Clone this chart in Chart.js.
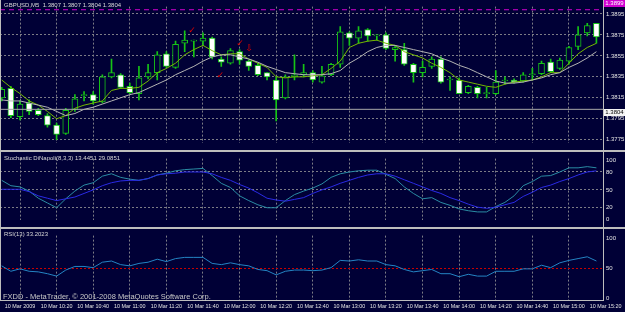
<!DOCTYPE html>
<html>
<head>
<meta charset="utf-8">
<script src="https://cdn.jsdelivr.net/npm/chart.js@4.4.1/dist/chart.umd.min.js"></script>
<style>
body{margin:0;background:#000036;width:625px;height:312px;overflow:hidden;position:relative;font-family:"Liberation Sans",Arial,sans-serif}
canvas{position:absolute;left:0}
.txt{position:absolute;color:#d8d8d8;font-size:6px;line-height:7px;white-space:nowrap}
.ln{position:absolute;background:#bdbdbd}
.box{position:absolute;left:604px;width:21px;height:7px;font-size:6px;line-height:7px;text-align:center}
</style>
</head>
<body>
<canvas id="priceChart" width="625" height="150" style="top:0"></canvas>
<canvas id="stochChart" width="625" height="75" style="top:152px"></canvas>
<canvas id="rsiChart" width="625" height="83" style="top:229px"></canvas>

<div class="ln" style="left:0;top:150px;width:625px;height:2px"></div>
<div class="ln" style="left:0;top:227px;width:625px;height:2px"></div>
<div class="ln" style="left:0;top:300px;width:604px;height:1px"></div>
<div class="ln" style="left:603px;top:0;width:1px;height:301px"></div>
<div class="ln" style="left:0;top:0;width:1px;height:301px"></div>

<div class="txt" style="left:4px;top:2px">GBPUSD,M5&nbsp; 1.3807 1.3807 1.3804 1.3804</div>
<div class="txt" style="left:4px;top:155px">Stochastic DiNapoli(8,3,3) 13.4451 29.0851</div>
<div class="txt" style="left:4px;top:231px">RSI(13) 33.2023</div>
<div class="txt" style="left:3px;top:293px;font-size:7.5px;line-height:8px;color:#c8c8c8">FXDD - MetaTrader, © 2001-2008 MetaQuotes Software Corp.</div>
<div class="box" style="top:0;background:#d000d0;color:#fff">1.3899</div>
<div class="box" style="top:109px;background:#f4f4f4;color:#000">1.3804</div>

<script>
// GBPUSD M5, bars from 09:50 to 15:15
var openP  = [1.3815,1.3824,1.3797,1.3810,1.3803,1.3798,1.3789,1.3781,1.3804,1.3817,1.3818,1.3811,1.3835,1.3837,1.3826,1.3819,1.3835,1.3839,1.3857,1.3844,1.3867,1.3869,1.3869,1.3872,1.3852,1.3848,1.3859,1.3850,1.3846,1.3839,1.3832,1.3815,1.3835,1.3837,1.3839,1.3830,1.3837,1.3847,1.3877,1.3872,1.3880,1.3874,1.3875,1.3861,1.3861,1.3847,1.3839,1.3845,1.3852,1.3832,1.3832,1.3820,1.3825,1.3819,1.3819,1.3831,1.3832,1.3831,1.3837,1.3838,1.3849,1.3843,1.3850,1.3864,1.3877,1.3886];
var highP  = [1.3825,1.3826,1.3812,1.3813,1.3805,1.3800,1.3791,1.3805,1.3818,1.3821,1.3821,1.3837,1.3852,1.3838,1.3829,1.3845,1.3847,1.3859,1.3859,1.3869,1.3879,1.3870,1.3877,1.3873,1.3854,1.3862,1.3861,1.3851,1.3848,1.3839,1.3835,1.3837,1.3856,1.3847,1.3841,1.3845,1.3848,1.3883,1.3878,1.3883,1.3881,1.3875,1.3877,1.3865,1.3867,1.3848,1.3850,1.3854,1.3854,1.3835,1.3834,1.3827,1.3826,1.3825,1.3841,1.3835,1.3833,1.3839,1.3843,1.3850,1.3852,1.3853,1.3864,1.3883,1.3886,1.3886];
var lowP   = [1.3812,1.3796,1.3794,1.3799,1.3798,1.3787,1.3775,1.3780,1.3802,1.3812,1.3809,1.3810,1.3834,1.3824,1.3819,1.3813,1.3833,1.3832,1.3844,1.3843,1.3859,1.3854,1.3865,1.3852,1.3845,1.3847,1.3847,1.3841,1.3836,1.3832,1.3793,1.3814,1.3832,1.3835,1.3830,1.3829,1.3836,1.3844,1.3865,1.3867,1.3869,1.3870,1.3861,1.3850,1.3846,1.3830,1.3835,1.3843,1.3829,1.3822,1.3819,1.3819,1.3815,1.3815,1.3818,1.3828,1.3829,1.3830,1.3832,1.3837,1.3839,1.3842,1.3847,1.3861,1.3874,1.3867];
var closeP = [1.3823,1.3798,1.3809,1.3802,1.3799,1.3789,1.3780,1.3803,1.3814,1.3817,1.3812,1.3835,1.3839,1.3825,1.3820,1.3834,1.3839,1.3856,1.3845,1.3866,1.3870,1.3869,1.3872,1.3854,1.3849,1.3860,1.3851,1.3845,1.3837,1.3835,1.3813,1.3835,1.3837,1.3839,1.3832,1.3836,1.3847,1.3878,1.3872,1.3879,1.3874,1.3874,1.3862,1.3863,1.3847,1.3839,1.3844,1.3852,1.3830,1.3832,1.3819,1.3826,1.3819,1.3819,1.3830,1.3831,1.3830,1.3837,1.3837,1.3848,1.3840,1.3851,1.3863,1.3875,1.3884,1.3873];
var maFast = [1.3832,1.3825,1.3819,1.3812,1.3808,1.3802,1.3795,1.3798,1.3805,1.3808,1.3810,1.3812,1.3822,1.3824,1.3824,1.3825,1.3831,1.3839,1.3843,1.3848,1.3856,1.3861,1.3865,1.3860,1.3856,1.3857,1.3857,1.3852,1.3848,1.3844,1.3835,1.3834,1.3835,1.3835,1.3836,1.3837,1.3843,1.3850,1.3863,1.3867,1.3869,1.3870,1.3867,1.3865,1.3859,1.3856,1.3853,1.3848,1.3844,1.3839,1.3832,1.3830,1.3828,1.3826,1.3825,1.3828,1.3830,1.3831,1.3832,1.3835,1.3839,1.3839,1.3848,1.3857,1.3863,1.3867];
var maSlow = [1.3813,1.3812,1.3812,1.3810,1.3808,1.3806,1.3802,1.3798,1.3800,1.3804,1.3806,1.3809,1.3812,1.3815,1.3818,1.3820,1.3824,1.3828,1.3832,1.3837,1.3841,1.3845,1.3850,1.3854,1.3856,1.3856,1.3854,1.3852,1.3849,1.3845,1.3842,1.3839,1.3838,1.3837,1.3837,1.3837,1.3838,1.3841,1.3848,1.3853,1.3859,1.3863,1.3865,1.3865,1.3863,1.3861,1.3859,1.3857,1.3853,1.3850,1.3846,1.3843,1.3839,1.3835,1.3831,1.3829,1.3829,1.3830,1.3832,1.3834,1.3837,1.3839,1.3844,1.3848,1.3853,1.3859];
var stochMain = [66,57,55,48,36,28,20,35,48,58,62,73,77,71,68,66,69,75,78,82,84,85,86,74,61,54,40,32,25,20,20,32,42,48,53,60,71,77,80,82,83,83,76,69,55,44,35,37,29,24,18,15,13,13,22,29,40,57,64,73,74,80,87,87,89,87];
var stochSignal = [51,51,51,47,40,36,32,35,38,44,50,57,62,65,66,66,69,75,77,78,80,80,80,77,71,66,59,53,45,36,33,31,34,37,44,50,55,61,66,71,75,77,77,73,67,61,55,49,44,37,32,26,21,19,21,25,29,39,46,54,58,64,69,75,80,82];
var rsiVals = [54,45,49,45,44,41,37,47,53,53,51,60,62,56,54,58,60,65,61,66,68,68,68,58,56,59,56,54,48,46,39,45,47,47,46,47,51,63,62,64,62,62,56,54,48,44,46,48,41,41,36,40,37,37,45,45,45,49,49,55,51,59,63,66,69,62];

var timeLabels = ['10 Mar 2009','10 Mar 10:20','10 Mar 10:40','10 Mar 11:00','10 Mar 11:20','10 Mar 11:40','10 Mar 12:00','10 Mar 12:20','10 Mar 12:40','10 Mar 13:00','10 Mar 13:20','10 Mar 13:40','10 Mar 14:00','10 Mar 14:20','10 Mar 14:40','10 Mar 15:00','10 Mar 15:20'];
var timeTicks = [2,6,10,14,18,22,26,30,34,38,42,46,50,54,58,62,66];
var priceTicks = [1.3775,1.3795,1.3815,1.3835,1.3855,1.3875,1.3895];
var stochTicks = [0,20,50,80,100];
var rsiTicks = [0,50,100];
var askLevel = 1.3899, bidLevel = 1.3804;
// red trade marks placed on the chart
var markX = [20.8, 26.05, 23.9];
var markY = [1.3879, 1.3867, 1.3836];
var arrowX = [27.05], arrowY = [1.3862];

var xMin = -0.186, xMax = 65.72;
var gridCol = '#7c7c86', candleCol = '#16c416', bgCol = '#000036';
var tickFont = {family: '"Liberation Sans", Arial, sans-serif', size: 6};

function pts(arr){ return arr.map(function(v, i){ return {x: i, y: v}; }); }
function hline(v){ return [{x: xMin, y: v}, {x: xMax, y: v}]; }

function xScale(showLabels){
    return {
        type: 'linear', min: xMin, max: xMax, offset: false,
        afterBuildTicks: function(s){ s.ticks = timeTicks.map(function(v){ return {value: v}; }); },
        afterFit: function(s){ s.height = showLabels ? 12 : 0; },
        ticks: {display: showLabels, color: '#e4e4e4', font: {family: tickFont.family, size: 5.4}, padding: 3, maxRotation: 0, autoSkip: false,
            callback: function(v){ return timeLabels[timeTicks.indexOf(v)]; }},
        grid: {offset: false, color: function(c){ return c.tick && c.tick.value > xMax ? 'rgba(0,0,0,0)' : gridCol; }, drawTicks: false, lineWidth: 1},
        border: {display: false, dash: [2, 2]}
    };
}
function yScale(min, max, ticks, fmt, gridFn){
    return {
        position: 'right', min: min, max: max,
        afterBuildTicks: function(s){ s.ticks = ticks.map(function(v){ return {value: v}; }); },
        afterFit: function(s){ s.width = 22; },
        ticks: {color: '#e4e4e4', font: tickFont, padding: 3, callback: fmt},
        grid: {color: gridFn, drawTicks: false, lineWidth: 1},
        border: {display: false, dash: [2, 2]}
    };
}
var baseOpts = {responsive: false, animation: false, layout: {padding: 0},
    plugins: {legend: {display: false}, tooltip: {enabled: false}}};

var marksPlugin = {
    id: 'marks',
    afterDatasetsDraw: function(chart){
        var c = chart.ctx, xs = chart.scales.x, ys = chart.scales.y;
        c.save();
        c.fillStyle = '#e00000'; c.strokeStyle = '#e00000';
        c.font = 'bold 9px "DejaVu Sans"'; c.textAlign = 'center'; c.textBaseline = 'middle';
        markX.forEach(function(x, k){ c.fillText('\u2713', xs.getPixelForValue(x), ys.getPixelForValue(markY[k])); });
        c.font = '9px "DejaVu Sans"';
        arrowX.forEach(function(x, k){ c.fillText('\u21e9', xs.getPixelForValue(x), ys.getPixelForValue(arrowY[k])); });
        c.restore();
    }
};

(function(){
    var bodies = openP.map(function(o, i){ return {x: i, y: [o, closeP[i]]}; });
    var wicks = lowP.map(function(l, i){ return {x: i, y: [l, highP[i]]}; });
    var bodyFill = openP.map(function(o, i){ return closeP[i] < o ? '#ffffff' : bgCol; });
    new Chart(document.getElementById('priceChart'), {
        type: 'bar',
        data: {datasets: [
            {type: 'line', data: hline(askLevel), borderColor: '#d000d0', borderWidth: 1, borderDash: [5, 4], pointRadius: 0, order: 0},
            {type: 'line', data: hline(bidLevel), borderColor: '#a8a8a8', borderWidth: 1, pointRadius: 0, order: 0},
            {type: 'line', data: pts(maSlow), borderColor: '#b4b4b4', borderWidth: 1, pointRadius: 0, order: 0},
            {type: 'line', data: pts(maFast), borderColor: '#74b800', borderWidth: 1, pointRadius: 0, order: 0},
            {data: bodies, backgroundColor: bodyFill, borderColor: candleCol, borderWidth: 1, borderSkipped: false,
                barThickness: 6, minBarLength: 1, grouped: false, order: 1},
            {data: wicks, backgroundColor: candleCol, barThickness: 1, grouped: false, order: 2}
        ]},
        options: Object.assign({}, baseOpts, {scales: {
            x: xScale(false),
            y: yScale(1.37715, 1.3902, priceTicks, function(v){ return v.toFixed(4); }, gridCol)
        }}),
        plugins: [marksPlugin]
    });
})();

new Chart(document.getElementById('stochChart'), {
    type: 'line',
    data: {datasets: [
        {data: pts(stochSignal), borderColor: '#2a2ae6', borderWidth: 1, pointRadius: 0},
        {data: pts(stochMain), borderColor: '#2a8ca4', borderWidth: 1, pointRadius: 0}
    ]},
    options: Object.assign({}, baseOpts, {scales: {
        x: xScale(false),
        y: yScale(-1.24, 102.49, stochTicks, function(v){ return String(v); },
            function(c){ return c.tick && (c.tick.value === 0 || c.tick.value === 100) ? 'rgba(0,0,0,0)' : gridCol; })
    }})
});

new Chart(document.getElementById('rsiChart'), {
    type: 'line',
    data: {datasets: [
        {data: pts(rsiVals), borderColor: '#2484c4', borderWidth: 1, pointRadius: 0}
    ]},
    options: Object.assign({}, baseOpts, {scales: {
        x: xScale(true),
        y: yScale(-2.55, 104.05, rsiTicks, function(v){ return String(v); },
            function(c){ return c.tick && c.tick.value === 50 ? '#c80000' : 'rgba(0,0,0,0)'; })
    }})
});
</script>
</body>
</html>
